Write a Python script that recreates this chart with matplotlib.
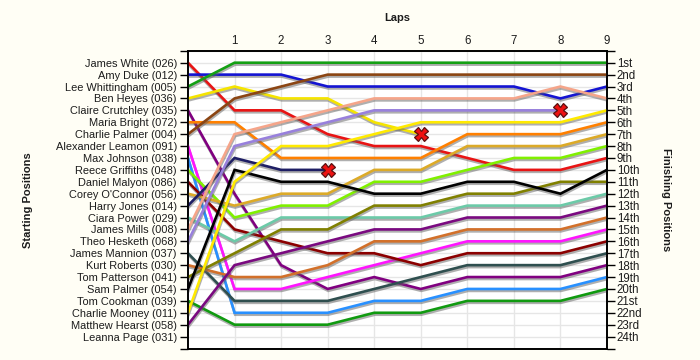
import matplotlib
matplotlib.use('Agg')
from matplotlib import pyplot
from matplotlib import patheffects

# Starting grid, top to bottom.
starters = ['James White (026)', 'Amy Duke (012)', 'Lee Whittingham (005)', 'Ben Heyes (036)',
            'Claire Crutchley (035)', 'Maria Bright (072)', 'Charlie Palmer (004)',
            'Alexander Leamon (091)', 'Max Johnson (038)', 'Reece Griffiths (048)',
            'Daniel Malyon (086)', "Corey O'Connor (056)", 'Harry Jones (014)', 'Ciara Power (029)',
            'James Mills (008)', 'Theo Hesketh (068)', 'James Mannion (037)', 'Kurt Roberts (030)',
            'Tom Patterson (041)', 'Sam Palmer (054)', 'Tom Cookman (039)', 'Charlie Mooney (011)',
            'Matthew Hearst (058)', 'Leanna Page (031)']
laps = [1, 2, 3, 4, 5, 6, 7, 8, 9]

# Position at lap 0, 1, 2 ... (list stops where the driver retired).
james_white = [1, 5, 5, 7, 8, 8, 9, 10, 10, 9]
amy_duke = [2, 2, 2, 3, 3, 3, 3, 3, 4, 3]
lee_whittingham = [3, 1, 1, 1, 1, 1, 1, 1, 1, 1]
ben_heyes = [4, 3, 4, 4, 6, 7]
claire_crutchley = [5, 12, 18, 20, 19, 20, 19, 19, 19, 18]
maria_bright = [6, 6, 9, 9, 9, 9, 7, 7, 7, 6]
charlie_palmer = [7, 4, 3, 2, 2, 2, 2, 2, 2, 2]
alexander_leamon = [8, 20, 20, 19, 18, 17, 16, 16, 16, 15]
max_johnson = [9, 22, 22, 22, 21, 21, 20, 20, 20, 19]
reece_griffiths = [10, 14, 13, 13, 11, 11, 10, 9, 9, 8]
daniel_malyon = [11, 15, 16, 17, 17, 18, 17, 17, 17, 16]
corey_oconnor = [12, 13, 12, 12, 10, 10, 8, 8, 8, 7]
harry_jones = [13, 9, 10, 10]
ciara_power = [14, 16, 14, 14, 14, 14, 13, 13, 13, 12]
james_mills = [15, 7, 6, 5, 4, 4, 4, 4, 3, 4]
theo_hesketh = [16, 8, 7, 6, 5, 5, 5, 5, 5]
james_mannion = [17, 21, 21, 21, 20, 19, 18, 18, 18, 17]
kurt_roberts = [18, 19, 19, 18, 16, 16, 15, 15, 15, 14]
tom_patterson = [19, 17, 15, 15, 13, 13, 12, 12, 11, 11]
sam_palmer = [20, 10, 11, 11, 12, 12, 11, 11, 12, 10]
tom_cookman = [21, 23, 23, 23, 22, 22, 21, 21, 21, 20]
charlie_mooney = [22, 11, 8, 8, 7, 6, 6, 6, 6, 5]
matthew_hearst = [23, 18, 17, 16, 15, 15, 14, 14, 14, 13]

retired = ['Ben Heyes (036)', 'Harry Jones (014)', 'Theo Hesketh (068)']

Tracks = [
  (james_white, '#e81414'),
  (amy_duke, '#1414d2'),
  (lee_whittingham, '#14a014'),
  (ben_heyes, '#f5e400'),
  (claire_crutchley, '#800080'),
  (maria_bright, '#ff8000'),
  (charlie_palmer, '#8b4513'),
  (alexander_leamon, '#ff14ff'),
  (max_johnson, '#2890ff'),
  (reece_griffiths, '#80f000'),
  (daniel_malyon, '#8b0000'),
  (corey_oconnor, '#dcaa28'),
  (harry_jones, '#1e1e64'),
  (ciara_power, '#6ccaa8'),
  (james_mills, '#f5a58a'),
  (theo_hesketh, '#9880dc'),
  (james_mannion, '#2f4f4f'),
  (kurt_roberts, '#d2702a'),
  (tom_patterson, '#808000'),
  (sam_palmer, '#000000'),
  (tom_cookman, '#109a10'),
  (charlie_mooney, '#ffea00'),
  (matthew_hearst, '#7a0a80'),
]


def Ordinal(n):
  if 10 <= n % 100 <= 20:
    suffix = 'th'
  else:
    suffix = {1: 'st', 2: 'nd', 3: 'rd'}.get(n % 10, 'th')
  return '{}{}'.format(n, suffix)


def Run():
  bg = '#fffef5'
  txt = '#1c1c1c'
  fs = 7.9
  fig = pyplot.figure(figsize=(7, 3.6), dpi=100, facecolor=bg)
  ax = fig.add_axes([188 / 700., 1 - 348.5 / 360., (607 - 188) / 700., (348.5 - 50.8) / 360.])
  ax.set_facecolor('white')

  shadow = [patheffects.SimpleLineShadow(offset=(0.4, -1.4), shadow_color='#606060', alpha=0.5),
            patheffects.Normal()]
  for pos, color in Tracks:
    x = list(range(len(pos)))
    ax.plot(x, pos, '-', color=color, linewidth=1.9, solid_joinstyle='miter',
            path_effects=shadow, zorder=3)

  tracks_by_name = dict(zip(starters, [t[0] for t in Tracks]))
  for name in retired:
    pos = tracks_by_name[name]
    ax.plot(len(pos) - 1, pos[-1], 'X', markersize=10, markerfacecolor='#ee1111',
            markeredgecolor='#5a1010', markeredgewidth=0.9, zorder=5)

  n = len(starters)
  ax.set_xlim(0, laps[-1])
  ax.set_ylim(n + 1, 0)

  ax.set_xticks(laps)
  ax.set_xticklabels([str(l) for l in laps], fontsize=fs + 0.4, color=txt)
  ax.xaxis.tick_top()
  ax.tick_params(axis='x', length=0, pad=3)

  ticks = list(range(0, n + 2))
  ax.set_yticks(ticks)
  ax.set_yticklabels([''] + starters + [''], fontsize=fs, color=txt)
  ax.tick_params(axis='y', length=6, width=1, color='black', pad=2,
                 left=True, right=True, labelleft=True, labelright=False)

  ax2 = ax.twinx()
  ax2.set_ylim(n + 1, 0)
  ax2.set_yticks(ticks)
  ax2.set_yticklabels([''] + [Ordinal(i) for i in range(1, n + 1)] + [''], fontsize=fs + 0.4, color=txt)
  ax2.tick_params(axis='y', length=6, width=1, color='black', pad=1)

  ax.set_axisbelow(True)
  ax.xaxis.grid(True, color='#e6e6e6', linewidth=1)
  ax.yaxis.grid(True, color='#e6e6e6', linewidth=1)
  for a in (ax, ax2):
    for s in a.spines.values():
      s.set_color('black')
      s.set_linewidth(1.2)

  fig.text(397 / 700., 1 - 18 / 360., 'Laps', ha='center', va='center',
           fontsize=8, fontweight='bold', color=txt)
  fig.text(28 / 700., 1 - 200 / 360., 'Starting Positions', ha='center', va='center',
           rotation=90, fontsize=8, fontweight='bold', color=txt)
  fig.text(666 / 700., 1 - 200 / 360., 'Finishing Positions', ha='center', va='center',
           rotation=270, fontsize=8, fontweight='bold', color=txt)

  fig.savefig('out.png', dpi=100, facecolor=bg)


if __name__ == '__main__':
  pyplot.rcParams['font.family'] = ['Liberation Sans', 'DejaVu Sans']
  Run()
